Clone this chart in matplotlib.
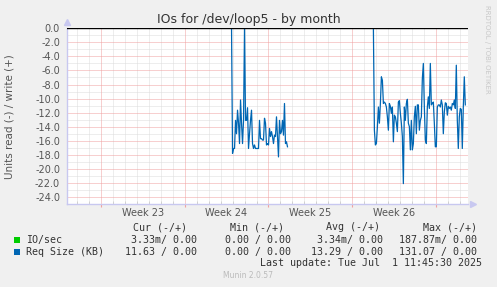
import matplotlib
matplotlib.use('Agg')
import matplotlib.pyplot as plt
import matplotlib.dates as mdates
from matplotlib.patches import Rectangle
import pandas as pd
import numpy as np

# ---------------- data ----------------
title = "IOs for /dev/loop5 - by month"
y_label = "Units read (-) / write (+)"
window_start = "2025-05-29 04:00"
window_end = "2025-07-01 16:00"
week_starts = ["2025-06-01", "2025-06-08", "2025-06-15", "2025-06-22", "2025-06-29"]
week_labels = ["Week 23", "Week 24", "Week 25", "Week 26"]
sample_step = "2h"

seg1_start = "2025-06-11 22:00"
seg1_values = [0.0, -17.8, -17.1, -17.1, -13.1, -15.0, -11.65, -13.5, -16.4, -10.2,
               -13.5, -16.4, -13.1, 0.0, -13.1, -13.1, -11.3, -17.1, -15.0, -13.1,
               -11.65, -16.4, -17.1, -16.6, -17.1, -17.1, -17.1, -17.1, -13.1, -15.7,
               -15.7, -15.9, -15.9, -12.8, -13.5, -16.6, -16.4, -16.6, -14.25, -15.4,
               -14.7, -15.4, -16.4, -15.2, -15.4, -12.6, -15.4, -18.3, -13.1, -15.0,
               -14.7, -13.1, -15.2, -10.7, -16.4, -16.15, -16.86]

seg2_start = "2025-06-23 18:00"
seg2_values = [0.0, -14.5, -16.6, -16.4, -14.0, -11.2, -13.5, -10.7, -6.9, -7.4,
               -10.7, -10.5, -10.7, -11.2, -12.6, -14.5, -10.7, -11.1, -12.1, -11.2,
               -16.15, -12.36, -12.6, -13.5, -14.7, -10.5, -10.3, -12.1, -13.5, -15.4,
               -22.1, -11.2, -13.1, -10.7, -10.1, -13.5, -14.0, -17.3, -13.1, -17.3,
               -16.4, -12.6, -11.1, -15.0, -10.9, -10.9, -14.5, -13.1, -12.6, -7.15,
               -5.0, -11.2, -15.9, -16.4, -11.2, -9.75, -11.4, -5.0, -10.9, -10.7,
               -10.5, -13.5, -16.86, -16.86, -11.2, -10.9, -10.9, -11.2, -10.2, -10.9,
               -15.0, -11.9, -10.6, -10.7, -12.36, -11.1, -11.4, -11.2, -11.65, -10.7,
               -10.9, -10.2, -11.4, -5.25, -13.1, -17.1, -12.6, -11.4, -11.55, -17.1,
               -11.2, -6.9, -10.9]

y_min, y_max = -25.0, 0.0
y_major = np.arange(-24, 1, 2)

legend_names = ["IO/sec", "Req Size (KB)"]
legend_colors = ["#00CC00", "#0066B3"]
col_headers = ["Cur (-/+)", "Min (-/+)", "Avg (-/+)", "Max (-/+)"]
cur_vals = ["3.33m/ 0.00", "11.63 / 0.00"]
min_vals = ["0.00 / 0.00", "0.00 / 0.00"]
avg_vals = ["3.34m/ 0.00", "13.29 / 0.00"]
max_vals = ["187.87m/ 0.00", "131.07 / 0.00"]
last_update = "Last update: Tue Jul  1 11:45:30 2025"
footer = "Munin 2.0.57"
watermark = "RRDTOOL / TOBI OETIKER"

# ---------------- figure ----------------
W, H = 497, 287
fig = plt.figure(figsize=(W / 100, H / 100), dpi=100, facecolor="#F0F0F0")

def fx(px):
    return px / W

def fy(py):
    return 1 - py / H

left, right, top, bottom = 66.7, 468.3, 28.3, 204.0
ax = fig.add_axes([fx(left), fy(bottom), fx(right) - fx(left), fy(top) - fy(bottom)])
ax.set_facecolor("white")

t0 = pd.Timestamp(window_start)
t1 = pd.Timestamp(window_end)
ax.set_xlim(t0, t1)
ax.set_ylim(y_min, y_max)

# grid
days = pd.date_range(t0.ceil("D"), t1, freq="D")
weeks = pd.to_datetime(week_starts)
for d in days:
    if d in weeks:
        continue
    ax.axvline(d, color="#DDDDDD", lw=0.72, ls=(0, (1, 1)), zorder=1)
for w in weeks:
    ax.axvline(w, color="#F0A0A0", lw=0.72, ls=(0, (1, 1)), zorder=1.5)
for v in np.arange(-25, 0, 1):
    if v % 2 == 0:
        continue
    ax.axhline(v, color="#DDDDDD", lw=0.72, ls=(0, (1, 1)), zorder=1)
for v in y_major:
    if v == 0:
        continue
    ax.axhline(v, color="#F0A0A0", lw=0.72, ls=(0, (1, 1)), zorder=1.5)

# data
x1 = pd.date_range(seg1_start, periods=len(seg1_values), freq=sample_step)
x2 = pd.date_range(seg2_start, periods=len(seg2_values), freq=sample_step)
ax.plot(x1, seg1_values, color="#0066B3", lw=0.9, zorder=3)
ax.plot(x2, seg2_values, color="#0066B3", lw=0.9, zorder=3)
ax.axhline(0, color="#000000", lw=1.0, zorder=4)

# axes styling
for s in ["top", "right"]:
    ax.spines[s].set_visible(False)
for s in ["left", "bottom"]:
    ax.spines[s].set_color("#C8C8F0")
    ax.spines[s].set_linewidth(1.0)
ax.set_yticks(y_major)
ax.set_yticklabels([f"{v:.1f}" for v in y_major])
ax.tick_params(axis="y", length=0, pad=4.8, labelsize=7, labelcolor="#555555")
ax.set_xticks(weeks)
ax.set_xticklabels([])
ax.tick_params(axis="x", which="major", length=2, color="#F0A0A0", direction="out")
ax.set_xticks(days, minor=True)
ax.tick_params(axis="x", which="minor", length=2, color="#CCCCCC", direction="in")

# arrows
ax.plot([0], [1 + 6 / (bottom - top)], marker="^", color="#C8C8F0", ms=5,
        transform=ax.transAxes, clip_on=False)
ax.plot([1 + 5 / (right - left)], [0], marker=">", color="#C8C8F0", ms=5,
        transform=ax.transAxes, clip_on=False)

# week labels
for i, lab in enumerate(week_labels):
    mid = weeks[i] + (weeks[i + 1] - weeks[i]) / 2
    ax.text(mid, -(213 - bottom) / (bottom - top), lab, transform=ax.get_xaxis_transform(),
            ha="center", va="center", fontsize=7, color="#555555")

# titles
fig.text(0.5, fy(19.5), title, ha="center", va="center", fontsize=9, color="#333333")
fig.text(fx(10), fy((top + bottom) / 2), y_label, rotation=90, ha="center", va="center",
         fontsize=7.5, color="#555555")
fig.text(fx(487), fy(5), watermark, rotation=270, ha="center", va="top",
         fontsize=5, color="#C8C8C8")

# legend
mono = "DejaVu Sans Mono"
fs = 7.2
tc = "#333333"
hdr_right = [187, 284, 380, 477]
val_right = [197, 291, 383, 477]
for h, xr in zip(col_headers, hdr_right):
    fig.text(fx(xr), fy(227.3), h, ha="right", va="center", family=mono, fontsize=fs, color=tc)
rows_y = [240.0, 251.7]
for r in range(2):
    y = rows_y[r]
    fig.add_artist(Rectangle((fx(14), fy(y + 3)), 6 / W, 6 / H, transform=fig.transFigure,
                             facecolor=legend_colors[r], edgecolor="none"))
    fig.text(fx(26.5), fy(y), legend_names[r], ha="left", va="center", family=mono,
             fontsize=fs, color=tc)
    for vals, xr in zip([cur_vals, min_vals, avg_vals, max_vals], val_right):
        fig.text(fx(xr), fy(y), vals[r], ha="right", va="center", family=mono,
                 fontsize=fs, color=tc)
fig.text(fx(482), fy(263.3), last_update, ha="right", va="center", family=mono,
         fontsize=fs, color=tc)
fig.text(fx(248), fy(276), footer, ha="center", va="center", fontsize=5.5, color="#BBBBBB")

fig.savefig("out.png", dpi=100, facecolor=fig.get_facecolor())
